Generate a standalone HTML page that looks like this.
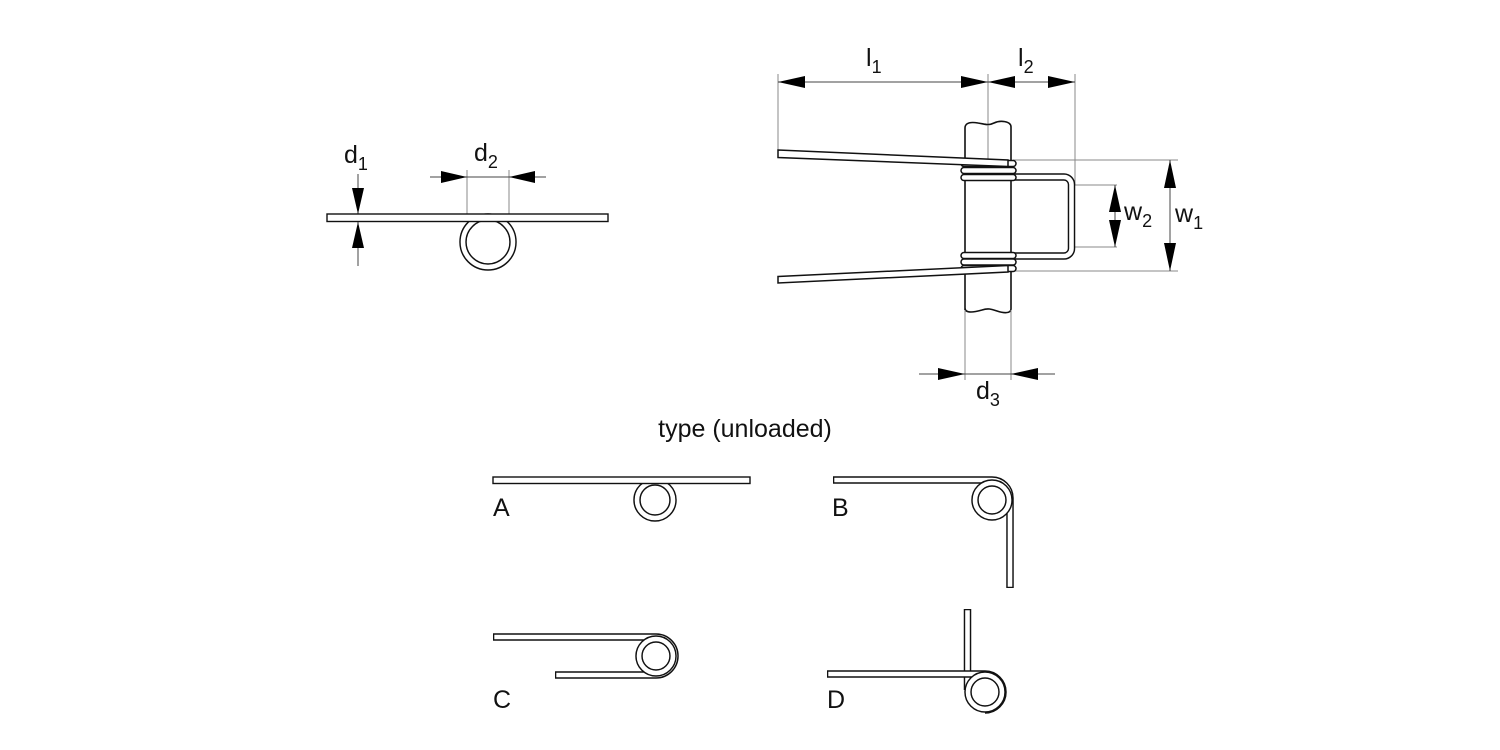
<!DOCTYPE html>
<html><head><meta charset="utf-8"><style>
html,body{margin:0;padding:0;background:#fff;}
svg{display:block;}
text{font-family:"Liberation Sans",Arial,sans-serif;fill:#111;}
</style></head><body>
<svg width="1500" height="750" viewBox="0 0 1500 750" xmlns="http://www.w3.org/2000/svg">
<defs>
<style>
.ext{stroke:#888;stroke-width:1;fill:none;}
.dim{stroke:#444;stroke-width:1;fill:none;}
.wb{stroke:#111;fill:none;stroke-width:7.5;}
.ww{stroke:#fff;fill:none;stroke-width:4.6;}
.arr{fill:#000;}
</style>
</defs>

<!-- ===== Top-left: d1, d2 ===== -->
<line class="ext" x1="467" y1="170" x2="467" y2="214"/>
<line class="ext" x1="509" y1="170" x2="509" y2="214"/>
<line class="dim" x1="430" y1="177" x2="546" y2="177"/>
<polygon class="arr" points="441,171 467,177 441,183"/>
<polygon class="arr" points="535,171 509,177 535,183"/>
<line class="dim" x1="358" y1="174" x2="358" y2="266"/>
<polygon class="arr" points="352,188 358,214 364,188"/>
<polygon class="arr" points="352,248 358,222 364,248"/>
<circle cx="488" cy="242" r="25" class="wb" stroke-width="7"/>
<circle cx="488" cy="242" r="25" class="ww" stroke-width="4.2"/>
<rect x="327" y="214" width="281" height="7.5" fill="#fff" stroke="#111" stroke-width="1.4"/>
<text x="344" y="163" font-size="25">d<tspan font-size="18" dy="7">1</tspan></text>
<text x="474" y="161" font-size="25">d<tspan font-size="18" dy="7">2</tspan></text>

<!-- ===== Top-right spring ===== -->
<line class="ext" x1="778" y1="74" x2="778" y2="152"/>
<line class="ext" x1="988" y1="74" x2="988" y2="125"/>
<line class="ext" x1="1075" y1="74" x2="1075" y2="185"/>
<line class="dim" x1="778" y1="82" x2="1075" y2="82"/>
<polygon class="arr" points="778,82 805,76 805,88"/>
<polygon class="arr" points="988,82 961,76 961,88"/>
<polygon class="arr" points="988,82 1015,76 1015,88"/>
<polygon class="arr" points="1075,82 1048,76 1048,88"/>
<text x="866" y="66" font-size="25">l<tspan font-size="18" dy="7">1</tspan></text>
<text x="1018" y="66" font-size="25">l<tspan font-size="18" dy="7">2</tspan></text>

<!-- w extension lines -->
<line class="ext" x1="1013" y1="160" x2="1178" y2="160"/>
<line class="ext" x1="1013" y1="271" x2="1178" y2="271"/>
<line class="ext" x1="1075" y1="185" x2="1117" y2="185"/>
<line class="ext" x1="1075" y1="247" x2="1117" y2="247"/>
<line class="dim" x1="1115" y1="185" x2="1115" y2="247"/>
<polygon class="arr" points="1115,185 1109,212 1121,212"/>
<polygon class="arr" points="1115,247 1109,220 1121,220"/>
<line class="dim" x1="1170" y1="160" x2="1170" y2="271"/>
<polygon class="arr" points="1170,160 1164,188 1176,188"/>
<polygon class="arr" points="1170,271 1164,243 1176,243"/>
<text x="1124" y="220" font-size="25">w<tspan font-size="18" dy="7">2</tspan></text>
<text x="1175" y="222" font-size="25">w<tspan font-size="18" dy="7">1</tspan></text>

<!-- shaft -->
<path d="M965,310 V128 C965,122 972,122 978,123 C985,124 988,126 994,123 C1000,120 1011,121 1011,127 V309 C1011,314 1003,313 997,311 C991,309 988,308 982,310 C975,312 965,314 965,308 Z" fill="#fff" stroke="#111" stroke-width="1.6"/>
<line class="ext" x1="988" y1="125" x2="988" y2="165"/>
<line class="ext" x1="965" y1="310" x2="965" y2="380"/>
<line class="ext" x1="1011" y1="310" x2="1011" y2="380"/>

<!-- loop -->
<path d="M968,177 H1064 A7.5 7.5 0 0 1 1071.5 184.5 V248.5 A7.5 7.5 0 0 1 1064 256 H968" class="wb" stroke-width="7"/>
<path d="M968,177 H1064 A7.5 7.5 0 0 1 1071.5 184.5 V248.5 A7.5 7.5 0 0 1 1064 256 H968" class="ww" stroke-width="4.3"/>

<!-- coils -->
<g stroke-linecap="round">
<line x1="964" y1="163.5" x2="1013" y2="163.5" stroke="#111" stroke-width="7.5"/>
<line x1="964" y1="163.5" x2="1013" y2="163.5" stroke="#fff" stroke-width="4.5"/>
<line x1="964" y1="170.5" x2="1013" y2="170.5" stroke="#111" stroke-width="7.5"/>
<line x1="964" y1="170.5" x2="1013" y2="170.5" stroke="#fff" stroke-width="4.5"/>
<line x1="964" y1="177.5" x2="1013" y2="177.5" stroke="#111" stroke-width="7.5"/>
<line x1="964" y1="177.5" x2="1013" y2="177.5" stroke="#fff" stroke-width="4.5"/>
<line x1="964" y1="255.5" x2="1013" y2="255.5" stroke="#111" stroke-width="7.5"/>
<line x1="964" y1="255.5" x2="1013" y2="255.5" stroke="#fff" stroke-width="4.5"/>
<line x1="964" y1="262" x2="1013" y2="262" stroke="#111" stroke-width="7.5"/>
<line x1="964" y1="262" x2="1013" y2="262" stroke="#fff" stroke-width="4.5"/>
<line x1="964" y1="268.5" x2="1013" y2="268.5" stroke="#111" stroke-width="7.5"/>
<line x1="964" y1="268.5" x2="1013" y2="268.5" stroke="#fff" stroke-width="4.5"/>
</g>
<!-- arms -->
<polygon points="778,150 1008,160 1008,166.5 778,157.5" fill="#fff" stroke="#111" stroke-width="1.5"/>
<polygon points="778,276.5 1008,265.5 1008,272 778,283" fill="#fff" stroke="#111" stroke-width="1.5"/>

<!-- d3 -->
<line class="dim" x1="919" y1="374" x2="1055" y2="374"/>
<polygon class="arr" points="965,374 938,368 938,380"/>
<polygon class="arr" points="1011,374 1038,368 1038,380"/>
<text x="976" y="399" font-size="25">d<tspan font-size="18" dy="7">3</tspan></text>

<text x="745" y="437" font-size="25" text-anchor="middle">type (unloaded)</text>

<!-- ===== A ===== -->
<circle cx="655" cy="500" r="18" class="wb" stroke-width="7"/>
<circle cx="655" cy="500" r="18" class="ww" stroke-width="4.2"/>
<rect x="493" y="477" width="257" height="6.5" fill="#fff" stroke="#111" stroke-width="1.4"/>
<text x="493" y="516" font-size="25">A</text>

<!-- ===== B ===== -->
<path d="M833,480 H992 A18 18 0 0 1 1010 498 V588" class="wb" stroke-width="7"/>
<path d="M834.3,480 H992 A18 18 0 0 1 1010 498 V586.7" class="ww" stroke-width="4.3"/>
<circle cx="992" cy="500" r="17" class="wb" stroke-width="7"/>
<circle cx="992" cy="500" r="17" class="ww" stroke-width="4.2"/>
<text x="832" y="516" font-size="25">B</text>

<!-- ===== C ===== -->
<path d="M493,637 H656 A19 19 0 0 1 656 675 H555" class="wb" stroke-width="7"/>
<path d="M494.3,637 H656 A19 19 0 0 1 656 675 H556.3" class="ww" stroke-width="4.3"/>
<circle cx="656" cy="656" r="17" class="wb" stroke-width="7"/>
<circle cx="656" cy="656" r="17" class="ww" stroke-width="4.2"/>
<text x="493" y="708" font-size="25">C</text>

<!-- ===== D ===== -->
<path d="M967.5,609 V690" class="wb" stroke-width="7"/>
<path d="M967.5,610.3 V690" class="ww" stroke-width="4.3"/>
<path d="M827,674 H985 A18 18 0 0 1 985 710" class="wb" stroke-width="7"/>
<path d="M828.3,674 H985 A18 18 0 0 1 985 710" class="ww" stroke-width="4.3"/>
<circle cx="985" cy="692" r="17" class="wb" stroke-width="7"/>
<circle cx="985" cy="692" r="17" class="ww" stroke-width="4.2"/>
<text x="827" y="708" font-size="25">D</text>
</svg>
</body></html>
